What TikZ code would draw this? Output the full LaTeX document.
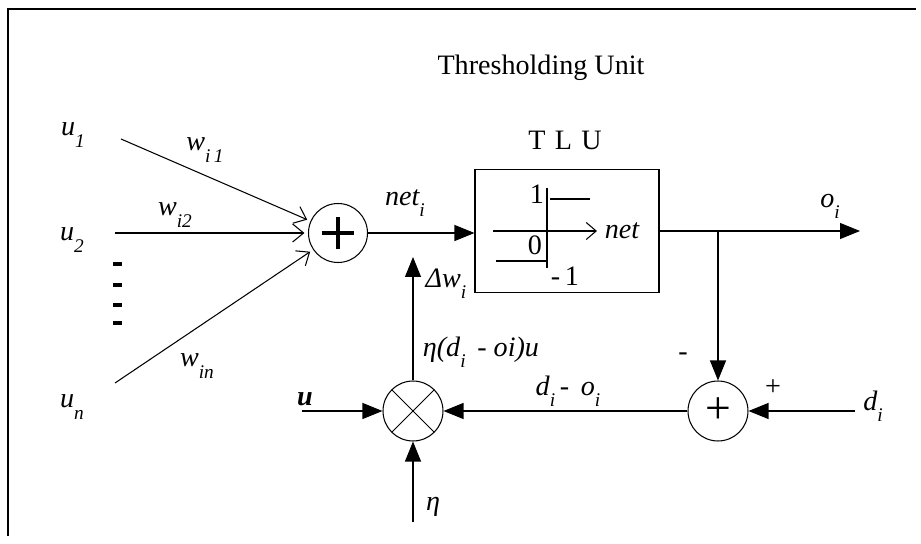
\documentclass[tikz,border=0pt]{standalone}
\usepackage{fontspec}
\setmainfont{Liberation Serif}
\usetikzlibrary{arrows.meta}

% lowered subscript, as in the scanned figure
\newcommand{\lsub}[1]{\raisebox{-0.4em}{\fontsize{11}{11}\selectfont\itshape #1}}

\begin{document}
\begin{tikzpicture}[
  x=0.02cm, y=-0.02cm,
  junction/.style={
    circle, draw, line width=0.6pt, minimum size=1.18cm, inner sep=0pt
  },
  adder/.style={junction, path picture={
      \draw[line width=2.8pt]
        ([xshift=-0.33cm]path picture bounding box.center) --
        ([xshift=0.33cm]path picture bounding box.center)
        ([yshift=-0.33cm]path picture bounding box.center) --
        ([yshift=0.33cm]path picture bounding box.center);}},
  multiplier/.style={junction, minimum size=1.2cm, path picture={
      \draw[line width=0.5pt]
        (path picture bounding box.north west) -- (path picture bounding box.south east)
        (path picture bounding box.north east) -- (path picture bounding box.south west);}},
  comparator/.style={junction, minimum size=1.2cm,
    font=\fontsize{26}{26}\selectfont},
  tlubox/.style={
    rectangle, draw, line width=0.6pt, minimum width=3.68cm, minimum height=2.46cm
  },
  lbl/.style={font=\fontsize{16}{18}\selectfont\itshape, inner sep=1pt},
  plain/.style={font=\fontsize{16}{18}\selectfont, inner sep=1pt},
  sigline/.style={line width=0.6pt},
  fwd/.style={sigline, -{Triangle[length=0.4cm, width=0.32cm]}},
  weighted/.style={sigline, -{Straight Barb[length=0.22cm, width=0.36cm]}, shorten >=2pt},
  curve/.style={line width=0.6pt}
]
\useasboundingbox (0,0) rectangle (921,544);

% --- Scan frame (top and left edges only) ---
\draw[line width=0.8pt] (8,536) -- (8,9) -- (916,9);

% --- Headings ---
\node[plain] (title) at (541,68) {Thresholding Unit};
\node[plain] (tluname) at (565,140) {T\,\,L\,\,U};

% --- Blocks ---
\node[adder]      (sum)  at (338,233) {};
\node[tlubox]     (tlu)  at (567,231) {};
\node[multiplier] (mult) at (413,411) {};
\node[comparator] (diff) at (718,411) {+};

% --- Free ends ---
\coordinate (in1)  at (121,139);
\coordinate (in2)  at (115,233);
\coordinate (inn)  at (115,383);
\coordinate (out)  at (860,231);
\coordinate (br)   at (718,231);
\coordinate (dsrc) at (855,411);
\coordinate (usrc) at (302,411);
\coordinate (esrc) at (413,522);
\coordinate (dwtop) at (413,257);

% --- Inputs u_1 ... u_n ---
\node[lbl] (u1) at (73,135) {u\lsub{1}};
\node[lbl] (u2) at (72,240) {u\lsub{2}};
\node[lbl] (un) at (72,407) {u\lsub{n}};
\foreach \yy in {264,285,305,323}
  \fill (113,\yy-2) rectangle (122,\yy+2);

\draw[weighted] (in1) -- (sum);
\draw[weighted] (in2) -- (sum);
\draw[weighted] (inn) -- (sum);
\node[lbl] (wi1) at (205,150) {w\lsub{i\,1}};
\node[lbl] (wi2) at (175,215) {w\lsub{i2}};
\node[lbl] (win) at (197,366) {w\lsub{in}};

% --- Sum to TLU ---
\draw[fwd] (sum.east) -- (sum.east -| tlu.west);
\node[lbl] (neti) at (405,203) {net\lsub{i}};

% --- Step function inside TLU ---
\draw[curve] (547,188) -- (547,268);
\draw[curve] (550,199) -- (590,199);
\draw[curve] (496,261) -- (547,261);
\draw[curve, -{Straight Barb[length=0.2cm, width=0.34cm]}] (493,231) -- (597,231);
\node[plain] (one)  at (537,194) {1};
\node[plain] (zero) at (535,245) {0};
\node[plain] (mone) at (565,276) {-\,1};
\node[lbl]   (netx) at (622,231) {net};

% --- Output and error branch ---
\draw[fwd] (tlu.east) -- (out);
\node[lbl] (oi) at (830,206) {o\lsub{i}};
\draw[fwd] (br) -- (diff);
\node[plain] (minus) at (683,357) {-};
\draw[fwd] (dsrc) -- (diff);
\node[plain] (plus) at (773,388) {+};
\node[lbl] (di) at (873,406) {d\lsub{i}};

% --- Learning rule ---
\draw[fwd] (diff) -- (mult);
\node[lbl] (err) at (568,391) {d\lsub{i}\,- \,o\lsub{i}};
\draw[fwd] (usrc) -- (mult);
\node[plain, font=\fontsize{16}{18}\selectfont\bfseries\itshape] (u) at (305,399) {u};
\draw[fwd] (esrc) -- (mult);
\node[lbl] (eta) at (433,507) {η};
\draw[fwd] (mult) -- (dwtop);
\node[lbl] (prod) at (481,352) {η(d\lsub{i}\, - oi)u};
\node[lbl] (dw) at (446,284) {Δw\lsub{i}};

\end{tikzpicture}
\end{document}
